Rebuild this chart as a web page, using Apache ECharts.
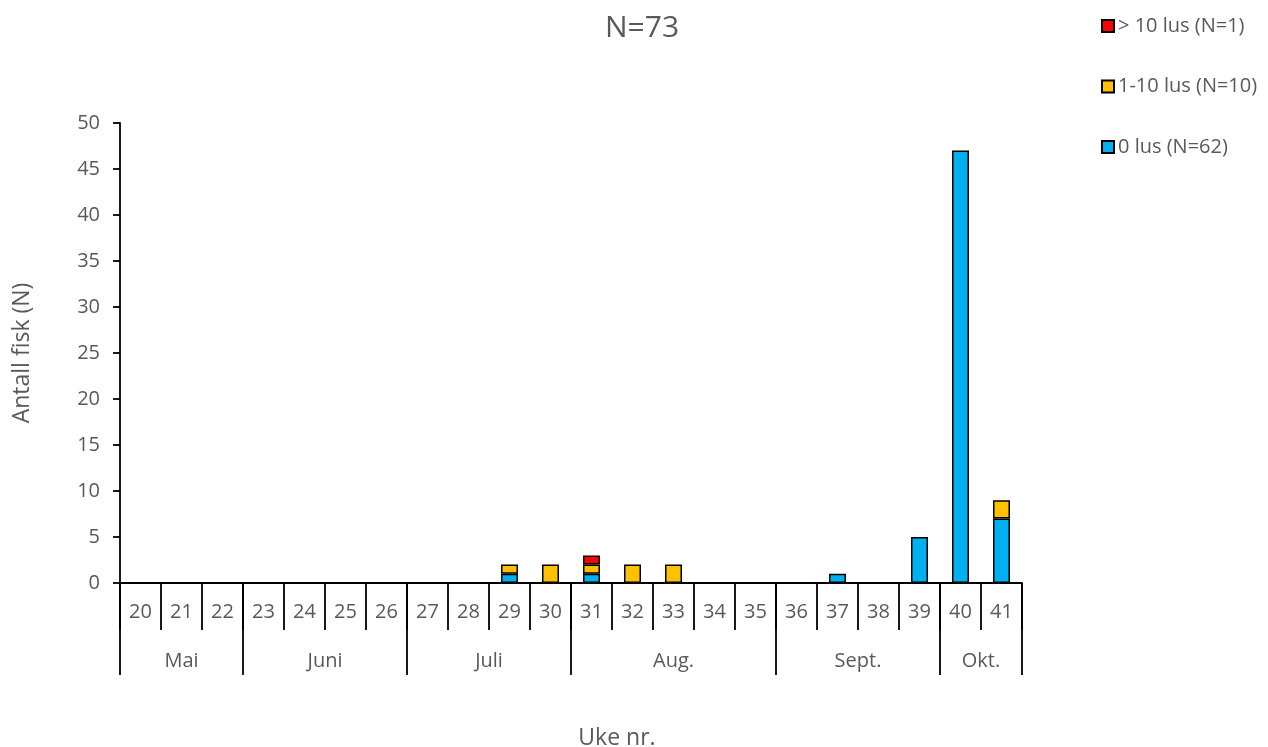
<!DOCTYPE html>
<html>
  <head>
    <meta charset="utf-8" />
    <script src="https://cdn.jsdelivr.net/npm/echarts@6.0.0/dist/echarts.min.js"></script>
  </head>
  <body style="margin:0">
    <div id="main" style="width: 1268px;height:747px;"></div>
    <script type="text/javascript">
      var myChart = echarts.init(document.getElementById('main'));

      // uke nr.
      const weeks = ['20','21','22','23','24','25','26','27','28','29','30','31','32','33','34','35','36','37','38','39','40','41'];
      // maaneder og hvilken uke-indeks de starter paa
      const months = ['Mai', 'Juni', 'Juli', 'Aug.', 'Sept.', 'Okt.'];
      const monthStart = [0, 3, 7, 11, 16, 20];

      const lus0 =   [0,0,0,0,0,0,0,0,0,1,0,1,0,0,0,0,0,1,0,5,47,7];
      const lus110 = [0,0,0,0,0,0,0,0,0,1,2,1,2,2,0,0,0,0,0,0,0,2];
      const lus10 =  [0,0,0,0,0,0,0,0,0,0,0,1,0,0,0,0,0,0,0,0,0,0];

      const textColor = '#595959';
      const font = 'Open Sans';
      const lineW = 1.8;
      const catW = (1268 - 120 - 246) / weeks.length;

      // label position for each month (center of group), shift half a week if even
      let monthLabel = {};
      monthStart.forEach(function (s, i) {
        const e = i + 1 < monthStart.length ? monthStart[i + 1] : weeks.length;
        const c = (s + e - 1) / 2;
        monthLabel[Math.floor(c)] = { name: months[i], shift: c % 1 !== 0 };
      });

      const hideZero = arr => arr.map(v => v === 0 ? '-' : v);

      option = {
        animation: false,
        textStyle: { fontFamily: font },
        title: {
          text: 'N=73',
          left: 600,
          top: 8,
          textStyle: { fontSize: 30, fontWeight: 'normal', color: textColor, fontFamily: font }
        },
        legend: {
          orient: 'vertical',
          left: 1096,
          top: 10,
          itemWidth: 12,
          itemHeight: 12,
          itemGap: 38.5,
          icon: 'rect',
          data: ['> 10 lus (N=1)', '1-10 lus (N=10)', '0 lus (N=62)'],
          textStyle: { fontSize: 20, lineHeight: 22, color: textColor, fontFamily: font, padding: [0, 0, 0, -1] }
        },
        grid: { left: 120, right: 246, top: 123, bottom: 164, outerBoundsMode: 'none' },
        xAxis: [
          { type: 'category',
            data: weeks,
            name: 'Uke nr.',
            nameLocation: 'middle',
            nameGap: 144,
            nameTextStyle: { fontSize: 23, color: textColor, padding: [0, 0, 0, 92] },
            axisLine: { lineStyle: { color: '#000', width: lineW } },
            axisTick: { show: true, length: 47, lineStyle: { color: '#000', width: lineW } },
            axisLabel: { interval: 0, margin: 19, fontSize: 20, color: textColor }
          },
          { type: 'category',
            data: weeks,
            position: 'bottom',
            axisLine: { show: false },
            axisTick: {
              show: true,
              length: 92,
              interval: function (index) { return monthStart.indexOf(index) >= 0; },
              lineStyle: { color: '#000', width: lineW }
            },
            axisLabel: {
              margin: 68,
              fontSize: 20,
              color: textColor,
              interval: function (index) { return monthLabel[index] !== undefined; },
              formatter: function (value, index) {
                const m = monthLabel[index];
                if (!m) return '';
                return m.shift ? '{s|' + m.name + '}' : m.name;
              },
              rich: {
                s: { fontSize: 20, color: textColor, fontFamily: font, padding: [0, 0, 0, catW] }
              }
            }
          }
        ],
        yAxis: {
          type: 'value',
          min: 0,
          max: 50,
          interval: 5,
          name: 'Antall fisk (N)',
          nameLocation: 'middle',
          nameGap: 86,
          nameTextStyle: { fontSize: 23, color: textColor },
          splitLine: { show: false },
          axisLine: { show: true, lineStyle: { color: '#000', width: lineW } },
          axisTick: { show: true, length: 7, lineStyle: { color: '#000', width: lineW } },
          axisLabel: { margin: 20, fontSize: 20, color: textColor }
        },
        series: [
          { name: '0 lus (N=62)',
            type: 'bar',
            stack: 'a',
            barWidth: 17,
            data: hideZero(lus0),
            itemStyle: { color: '#00B0F0', borderColor: '#000', borderWidth: 1.5 }
          },
          { name: '1-10 lus (N=10)',
            type: 'bar',
            stack: 'a',
            barWidth: 17,
            data: hideZero(lus110),
            itemStyle: { color: '#FFC000', borderColor: '#000', borderWidth: 1.5 }
          },
          { name: '> 10 lus (N=1)',
            type: 'bar',
            stack: 'a',
            barWidth: 17,
            data: hideZero(lus10),
            itemStyle: { color: '#FF0000', borderColor: '#000', borderWidth: 1.5 }
          }
        ]
      };

      myChart.setOption(option);
    </script>
  </body>
</html>
